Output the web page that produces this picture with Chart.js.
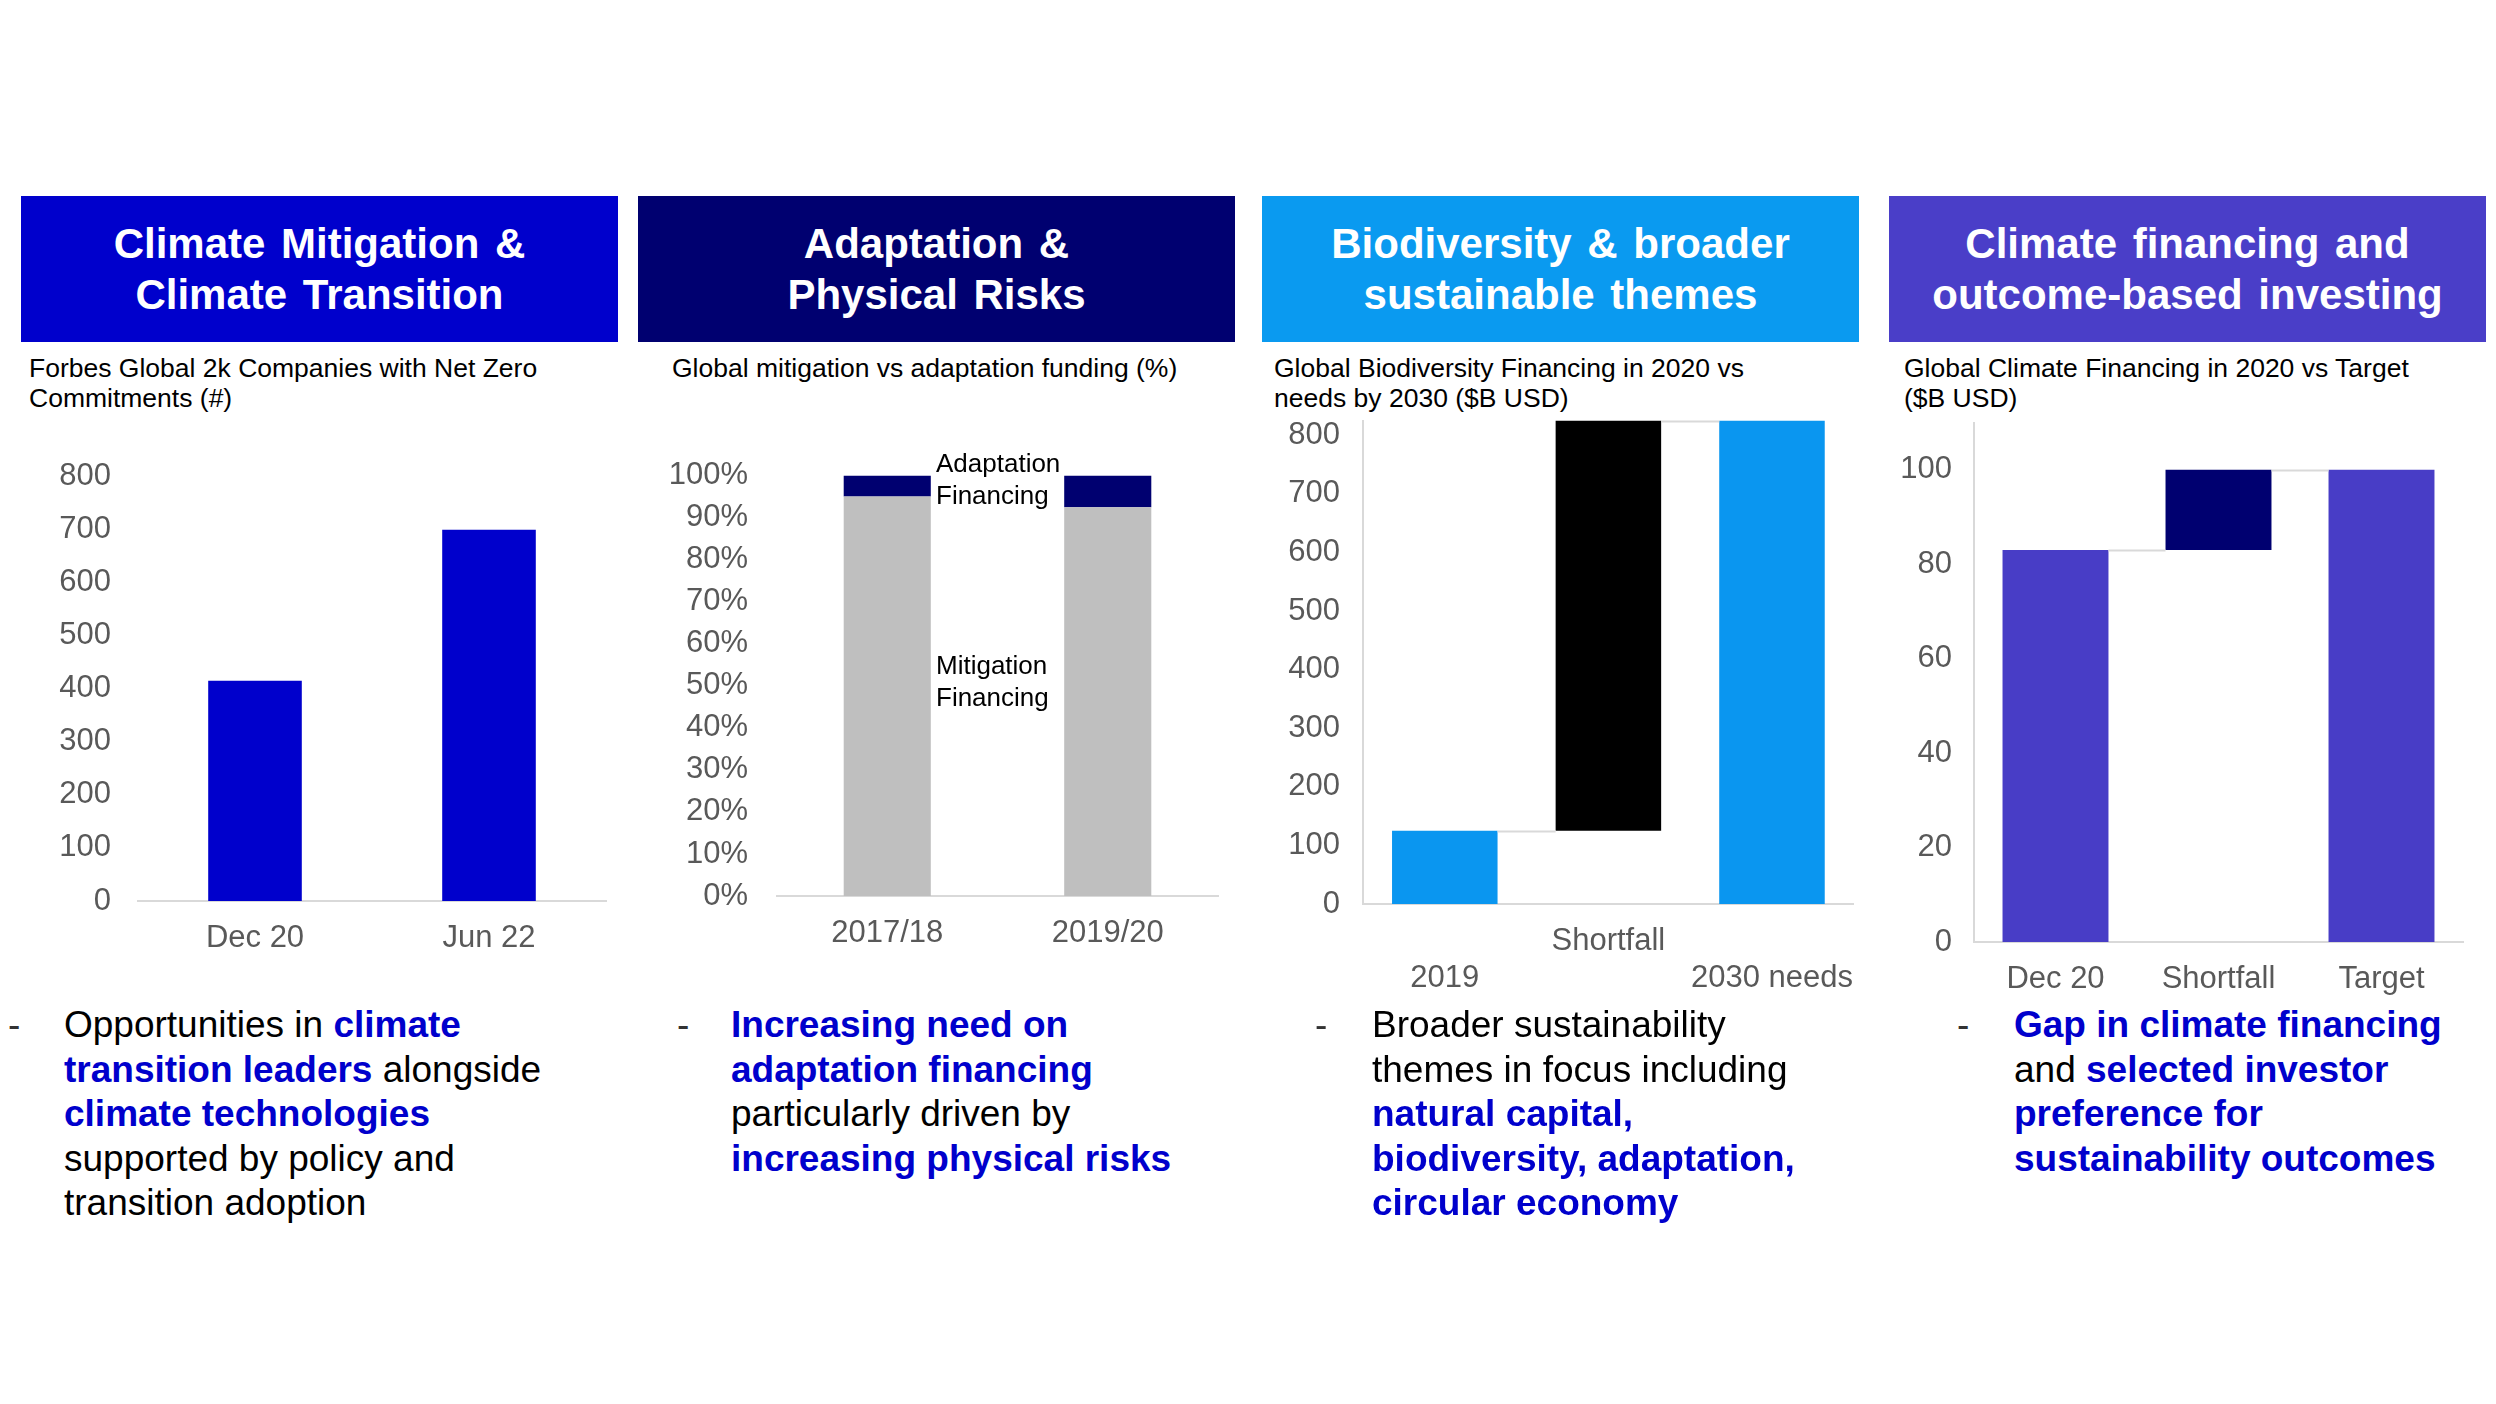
<!DOCTYPE html>
<html>
<head>
<meta charset="utf-8">
<script src="https://cdn.jsdelivr.net/npm/chart.js@4.4.1/dist/chart.umd.min.js"></script>
<style>
  html, body { margin: 0; padding: 0; background: #fff; }
  body { width: 2496px; height: 1404px; position: relative; overflow: hidden; font-family: "Liberation Sans", Arial, sans-serif; }
  .head { position: absolute; top: 196px; height: 146px; width: 597px; color: #fff; font-weight: bold; font-size: 42px; line-height: 51px; text-align: center; display: flex; align-items: center; justify-content: center; word-spacing: 4px; }
  .sub { position: absolute; top: 353px; font-size: 26.5px; line-height: 30px; color: #000; white-space: nowrap; }
  .box { position: absolute; }
  .note { position: absolute; font-size: 26px; line-height: 32px; color: #000; z-index: 2; white-space: nowrap; }
  .txt { position: absolute; top: 1003px; font-size: 37px; line-height: 44.6px; color: #000; white-space: nowrap; }
  .txt b { color: #0000CC; }
  .dash { position: absolute; top: 1003px; font-size: 37px; line-height: 44.6px; color: #333; }
</style>
</head>
<body>

<div class="head" style="left:21px;background:#0000CC">Climate Mitigation &amp;<br>Climate Transition</div>
<div class="head" style="left:638px;background:#000070">Adaptation &amp;<br>Physical Risks</div>
<div class="head" style="left:1262px;background:#0A9AF0">Biodiversity &amp; broader<br>sustainable themes</div>
<div class="head" style="left:1889px;background:#4A3EC8">Climate financing and<br>outcome-based investing</div>

<div class="sub" style="left:29px">Forbes Global 2k Companies with Net Zero<br>Commitments (#)</div>
<div class="sub" style="left:672px">Global mitigation vs adaptation funding (%)</div>
<div class="sub" style="left:1274px">Global Biodiversity Financing in 2020 vs<br>needs by 2030 ($B USD)</div>
<div class="sub" style="left:1904px">Global Climate Financing in 2020 vs Target<br>($B USD)</div>

<div class="box" style="left:20px;top:431px;width:600px;height:543px"><canvas id="c1"></canvas></div>
<div class="box" style="left:640px;top:428px;width:600px;height:545px"><canvas id="c2"></canvas></div>
<div class="box" style="left:1262px;top:379px;width:610px;height:659px"><canvas id="c3"></canvas></div>
<div class="box" style="left:1890px;top:382px;width:600px;height:618px"><canvas id="c4"></canvas></div>

<div class="note" style="left:936px;top:447px">Adaptation<br>Financing</div>
<div class="note" style="left:936px;top:649px">Mitigation<br>Financing</div>

<div class="dash" style="left:8px">-</div>
<div class="txt" style="left:64px">Opportunities in <b>climate</b><br><b>transition leaders</b> alongside<br><b>climate technologies</b><br>supported by policy and<br>transition adoption</div>
<div class="dash" style="left:677px">-</div>
<div class="txt" style="left:731px"><b>Increasing need on</b><br><b>adaptation financing</b><br>particularly driven by<br><b>increasing physical risks</b></div>
<div class="dash" style="left:1315px">-</div>
<div class="txt" style="left:1372px">Broader sustainability<br>themes in focus including<br><b>natural capital,</b><br><b>biodiversity, adaptation,</b><br><b>circular economy</b></div>
<div class="dash" style="left:1957px">-</div>
<div class="txt" style="left:2014px"><b>Gap in climate financing</b><br>and <b>selected investor</b><br><b>preference for</b><br><b>sustainability outcomes</b></div>

<script>
// data
const netZeroLabels = ['Dec 20', 'Jun 22'];
const netZeroValues = [415, 700];

const fundingLabels = ['2017/18', '2019/20'];
const mitigationShare = [95, 92.5];
const adaptationShare = [5, 7.5];

const bioLabels = ['2019', 'Shortfall', '2030 needs'];
const bioStart = [0, 125, 0];
const bioEnd = [125, 825, 825];

const climateLabels = ['Dec 20', 'Shortfall', 'Target'];
const climateStart = [0, 83, 0];
const climateEnd = [83, 100, 100];

Chart.defaults.font.family = '"Liberation Sans", Arial, sans-serif';
Chart.defaults.font.size = 31;
Chart.defaults.color = '#595959';

const axisGrey = '#D9D9D9';

// thin grey lines joining the waterfall steps
const connectors = {
    id: 'connectors',
    afterDatasetsDraw(chart) {
        const meta = chart.getDatasetMeta(0);
        const y = chart.scales.y;
        const ends = chart.data.datasets[0].data.map(d => d[1]);
        const ctx = chart.ctx;
        ctx.save();
        ctx.strokeStyle = axisGrey;
        ctx.lineWidth = 2;
        for (let i = 0; i < meta.data.length - 1; i++) {
            const a = meta.data[i];
            const b = meta.data[i + 1];
            const py = Math.round(y.getPixelForValue(ends[i])) + 0.5;
            ctx.beginPath();
            ctx.moveTo(a.x + a.width / 2, py);
            ctx.lineTo(b.x - b.width / 2, py);
            ctx.stroke();
        }
        ctx.restore();
    }
};

function xAxis(height, stacked) {
    return {
        stacked: stacked,
        grid: { color: 'rgba(0,0,0,0)', drawTicks: false },
        border: { color: axisGrey, width: 2 },
        ticks: { padding: 19, maxRotation: 0, autoSkip: false },
        afterFit: s => { s.height = height; }
    };
}

function yAxis(width, extra, showBorder) {
    return Object.assign({
        grid: { display: false, drawTicks: false },
        border: { display: showBorder, color: axisGrey, width: 2 },
        afterFit: s => { s.width = width; }
    }, extra);
}

const baseOptions = (right) => ({
    responsive: true,
    maintainAspectRatio: false,
    animation: false,
    devicePixelRatio: 1,
    layout: { padding: { top: 0, right: right, left: 0, bottom: 0 } },
    plugins: { legend: { display: false }, tooltip: { enabled: false } }
});

new Chart(document.getElementById('c1'), {
    type: 'bar',
    data: {
        labels: netZeroLabels,
        datasets: [{ data: netZeroValues, backgroundColor: '#0000CC', categoryPercentage: 1, barPercentage: 0.4 }]
    },
    options: Object.assign(baseOptions(14), {
        scales: {
            x: xAxis(73, false),
            y: yAxis(118, { min: 0, max: 800, ticks: { stepSize: 100, padding: 27, autoSkip: false } }, false)
        }
    })
});

new Chart(document.getElementById('c2'), {
    type: 'bar',
    data: {
        labels: fundingLabels,
        datasets: [
            { data: mitigationShare, backgroundColor: '#BFBFBF', categoryPercentage: 1, barPercentage: 0.395 },
            { data: adaptationShare, backgroundColor: '#000070', categoryPercentage: 1, barPercentage: 0.395 }
        ]
    },
    options: Object.assign(baseOptions(22), {
        scales: {
            x: xAxis(77, true),
            y: yAxis(137, { stacked: true, min: 0, max: 100, ticks: { stepSize: 10, padding: 29, autoSkip: false, callback: v => v + '%' } }, false)
        }
    })
});

new Chart(document.getElementById('c3'), {
    type: 'bar',
    data: {
        labels: bioLabels.map((c, i) => i % 2 ? [c, ''] : ['', c]),
        datasets: [{
            data: bioStart.map((s, i) => [s, bioEnd[i]]),
            backgroundColor: ['#0A96F0', '#000000', '#0A96F0'],
            categoryPercentage: 1, barPercentage: 0.645
        }]
    },
    options: Object.assign(baseOptions(0), {
        scales: {
            x: xAxis(134, false),
            y: yAxis(101, { min: 0, max: 825, ticks: { stepSize: 100, padding: 23, autoSkip: false, includeBounds: false } }, true)
        }
    }),
    plugins: [connectors]
});

new Chart(document.getElementById('c4'), {
    type: 'bar',
    data: {
        labels: climateLabels,
        datasets: [{
            data: climateStart.map((s, i) => [s, climateEnd[i]]),
            backgroundColor: ['#483DC6', '#000070', '#483DC6'],
            categoryPercentage: 1, barPercentage: 0.65
        }]
    },
    options: Object.assign(baseOptions(27), {
        scales: {
            x: xAxis(58, false),
            y: yAxis(84, { min: 0, max: 110, ticks: { stepSize: 20, padding: 22, autoSkip: false, includeBounds: false } }, true)
        }
    }),
    plugins: [connectors]
});
</script>
</body>
</html>
